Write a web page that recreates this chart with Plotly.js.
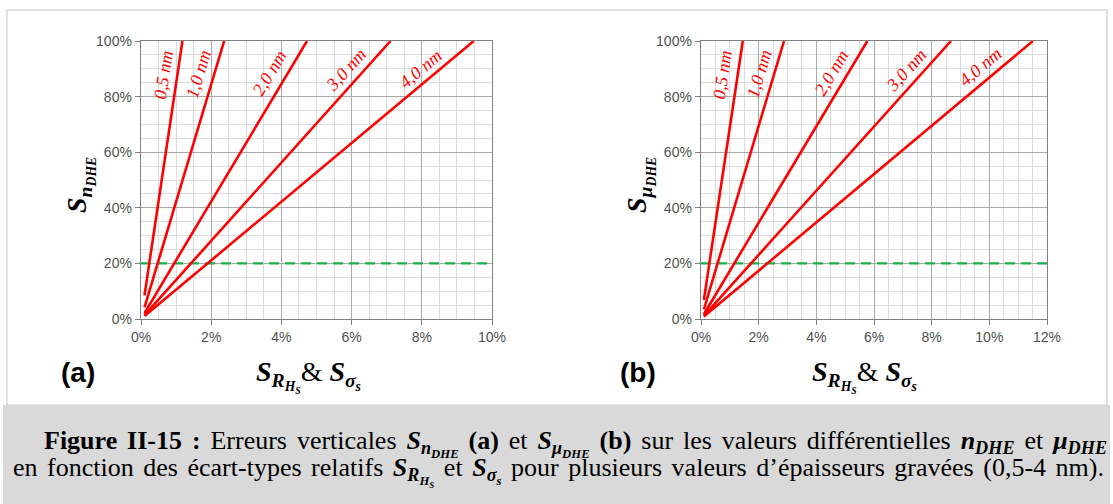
<!DOCTYPE html>
<html>
<head>
<meta charset="utf-8">
<script src="https://cdn.plot.ly/plotly-3.0.1.min.js"></script>
<style>html,body{margin:0;padding:0;background:#fff;}#chart{width:1113px;height:504px;}</style>
</head>
<body>
<div id="chart"></div>
<script>
// ---- data (values in percent) ----
const thicknessLabels = ['0,5 nm', '1,0 nm', '2,0 nm', '3,0 nm', '4,0 nm'];
// panel (a): S_nDHE vs S_RHs & S_sigma_s  (start point, end point of each line)
const a05x = [0.1, 1.18],  a05y = [8.5, 100];
const a10x = [0.1, 2.37],  a10y = [4.2, 100];
const a20x = [0.1, 4.73],  a20y = [2.1, 100];
const a30x = [0.1, 7.11],  a30y = [1.4, 100];
const a40x = [0.1, 9.48],  a40y = [1.05, 100];
// panel (b): S_muDHE vs S_RHs & S_sigma_s
const b05x = [0.1, 1.45],  b05y = [6.9, 100];
const b10x = [0.1, 2.88],  b10y = [3.5, 100];
const b20x = [0.1, 5.77],  b20y = [1.7, 100];
const b30x = [0.1, 8.67],  b30y = [1.15, 100];
const b40x = [0.1, 11.51], b40y = [0.87, 100];
const thresholdY = 20;
const xMaxA = 10, xMaxB = 12;

// ---- layout helpers ----
const W = 1113, H = 504;
const px = v => v / W;
const py = v => 1 - v / H;

const seriesA = [[a05x,a05y],[a10x,a10y],[a20x,a20y],[a30x,a30y],[a40x,a40y]];
const seriesB = [[b05x,b05y],[b10x,b10y],[b20x,b20y],[b30x,b30y],[b40x,b40y]];

const traces = [];
traces.push({x: [0, xMaxA], y: [thresholdY, thresholdY], xaxis: 'x', yaxis: 'y', mode: 'lines',
  line: {color: '#14b04a', width: 2.2, dash: '10px,6px'}, hoverinfo: 'skip'});
traces.push({x: [0, xMaxB], y: [thresholdY, thresholdY], xaxis: 'x2', yaxis: 'y2', mode: 'lines',
  line: {color: '#14b04a', width: 2.2, dash: '10px,6px'}, hoverinfo: 'skip'});
seriesA.forEach((s, i) => traces.push({x: s[0], y: s[1], xaxis: 'x', yaxis: 'y', mode: 'lines',
  line: {color: '#ff0000', width: 2.6}, name: thicknessLabels[i], hoverinfo: 'skip'}));
seriesB.forEach((s, i) => traces.push({x: s[0], y: s[1], xaxis: 'x2', yaxis: 'y2', mode: 'lines',
  line: {color: '#ff0000', width: 2.6}, name: thicknessLabels[i], hoverinfo: 'skip'}));

const tickFont = {family: 'Liberation Sans, Arial, sans-serif', size: 14, color: '#505050'};
function xAxis(domain, max, anchor) {
  return {domain: domain, range: [0, max], dtick: 2, tick0: 0, ticksuffix: '%', anchor: anchor,
    showgrid: true, gridcolor: '#a9a9a9', gridwidth: 1,
    minor: {dtick: 0.5, showgrid: true, gridcolor: '#dcdcdc', gridwidth: 1},
    showline: true, linecolor: '#808080', linewidth: 1.3, mirror: true,
    ticks: 'outside', ticklen: 5, tickcolor: '#808080',
    zeroline: false, tickfont: tickFont, fixedrange: true};
}
function yAxis(anchor) {
  return {domain: [py(319), py(41)], range: [0, 100], dtick: 20, tick0: 0, ticksuffix: '%',
    anchor: anchor,
    showgrid: true, gridcolor: '#a9a9a9', gridwidth: 1,
    minor: {dtick: 5, showgrid: true, gridcolor: '#dcdcdc', gridwidth: 1},
    showline: true, linecolor: '#808080', linewidth: 1.3, mirror: true,
    ticks: 'outside', ticklen: 5, tickcolor: '#808080',
    zeroline: false, tickfont: tickFont, fixedrange: true};
}

const labelPosA = [[0.64, 87.8, -81.5], [1.64, 88.1, -73.3], [3.66, 88.5, -59], [5.83, 89.6, -48], [7.96, 90, -40]];
const labelPosB = [[0.74, 87.8, -81.5], [2.02, 88.1, -73.4], [4.52, 88.5, -59], [7.12, 89.6, -48], [9.68, 90.6, -40]];
const lblFont = {family: 'Liberation Serif, Times New Roman, serif', size: 18, color: '#ff0000'};

const annotations = [];
const C = {showarrow: false, xanchor: 'center', yanchor: 'middle'};
labelPosA.forEach((p, i) => annotations.push(Object.assign({xref: 'x', yref: 'y', x: p[0], y: p[1],
  text: '<i>' + thicknessLabels[i] + '</i>', textangle: p[2], font: lblFont}, C)));
labelPosB.forEach((p, i) => annotations.push(Object.assign({xref: 'x2', yref: 'y2', x: p[0], y: p[1],
  text: '<i>' + thicknessLabels[i] + '</i>', textangle: p[2], font: lblFont}, C)));

const mathFont = {family: 'Liberation Serif, Times New Roman, serif', size: 28, color: '#000'};
const bi = t => '<b><i>' + t + '</i></b>';
const yTitleA = bi('S') + '<sub>' + bi('n') + '<sub>' + bi('DHE') + '</sub></sub>';
const yTitleB = bi('S') + '<sub>' + bi('μ') + '<sub>' + bi('DHE') + '</sub></sub>';
const xTitle = bi('S') + '<sub>' + bi('R') + '<sub>' + bi('H') + '<sub>' + bi('S') + '</sub></sub></sub>' +
  '&amp; ' + bi('S') + '<sub>' + bi('σ') + '<sub>' + bi('s') + '</sub></sub>';

annotations.push(Object.assign({xref: 'paper', yref: 'paper', x: px(80), y: py(185), text: yTitleA, textangle: -90, font: mathFont}, C));
annotations.push(Object.assign({xref: 'paper', yref: 'paper', x: px(640), y: py(185), text: yTitleB, textangle: -90, font: mathFont}, C));
annotations.push(Object.assign({xref: 'paper', yref: 'paper', x: px(308), y: py(376), text: xTitle, font: mathFont}, C));
annotations.push(Object.assign({xref: 'paper', yref: 'paper', x: px(864), y: py(376), text: xTitle, font: mathFont}, C));

const panelFont = {family: 'Liberation Sans, Arial, sans-serif', size: 28, color: '#000'};
annotations.push(Object.assign({xref: 'paper', yref: 'paper', x: px(78), y: py(372), text: '<b>(a)</b>', font: panelFont}, C));
annotations.push(Object.assign({xref: 'paper', yref: 'paper', x: px(638), y: py(372), text: '<b>(b)</b>', font: panelFont}, C));

// caption
const capFont = {family: 'Liberation Serif, Times New Roman, serif', size: 26, color: '#000'};
const cap1 = '<b>Figure II-15 :</b> Erreurs verticales ' + bi('S') + '<sub>' + bi('n') + '<sub>' + bi('DHE') + '</sub></sub> <b>(a)</b> et ' +
  bi('S') + '<sub>' + bi('μ') + '<sub>' + bi('DHE') + '</sub></sub> <b>(b)</b> sur les valeurs différentielles ' +
  bi('n') + '<sub>' + bi('DHE') + '</sub> et ' + bi('μ') + '<sub>' + bi('DHE') + '</sub>';
const cap2 = 'en fonction des écart-types relatifs ' + bi('S') + '<sub>' + bi('R') + '<sub>' + bi('H') + '<sub>' + bi('S') + '</sub></sub></sub> et ' +
  bi('S') + '<sub>' + bi('σ') + '<sub>' + bi('s') + '</sub></sub> pour plusieurs valeurs d’épaisseurs gravées (0,5-4 nm).';
const capStart = annotations.length;
annotations.push({xref: 'paper', yref: 'paper', x: px(42), y: py(443), xanchor: 'left', yanchor: 'middle', text: cap1, showarrow: false, font: capFont});
annotations.push({xref: 'paper', yref: 'paper', x: px(11), y: py(471), xanchor: 'left', yanchor: 'middle', text: cap2, showarrow: false, font: capFont});
const capRight = [1107, 1104]; // justified right edges (px)

const layout = {
  width: W, height: H, margin: {l: 0, r: 0, t: 0, b: 0},
  paper_bgcolor: '#ffffff', plot_bgcolor: '#ffffff', showlegend: false,
  xaxis: xAxis([px(141), px(492)], xMaxA, 'y'),
  yaxis: yAxis('x'),
  xaxis2: xAxis([px(701), px(1047)], xMaxB, 'y2'),
  yaxis2: yAxis('x2'),
  annotations: annotations,
  shapes: [
    {type: 'rect', xref: 'paper', yref: 'paper', x0: px(7), x1: px(1107), y0: py(405), y1: py(10),
      line: {color: '#d9d9d9', width: 1.5}, fillcolor: 'rgba(0,0,0,0)', layer: 'below'},
    {type: 'rect', xref: 'paper', yref: 'paper', x0: px(3), x1: px(1110), y0: 0, y1: py(405),
      line: {width: 0}, fillcolor: '#d9d9d9', layer: 'below'}
  ]
};

Plotly.newPlot('chart', traces, layout, {displayModeBar: false, staticPlot: true}).then(gd => {
  // justify caption lines like the reference (extra word spacing)
  [0, 1].forEach(k => {
    const t = gd.querySelector('g.annotation[data-index="' + (capStart + k) + '"] text.annotation-text');
    if (!t) return;
    const r0 = t.getBoundingClientRect();
    const n = (t.textContent.match(/ /g) || []).length;
    if (!n) return;
    const extra = (capRight[k] - r0.right) / n;
    if (extra > 0) {
      t.style.wordSpacing = extra + 'px';
      const r1 = t.getBoundingClientRect();
      const dx = r0.left - r1.left;
      if (Math.abs(dx) > 0.5) {
        const tr = t.getAttribute('transform') || '';
        t.setAttribute('transform', tr + ' translate(' + dx + ',0)');
      }
    }
  });
});
</script>
</body>
</html>
